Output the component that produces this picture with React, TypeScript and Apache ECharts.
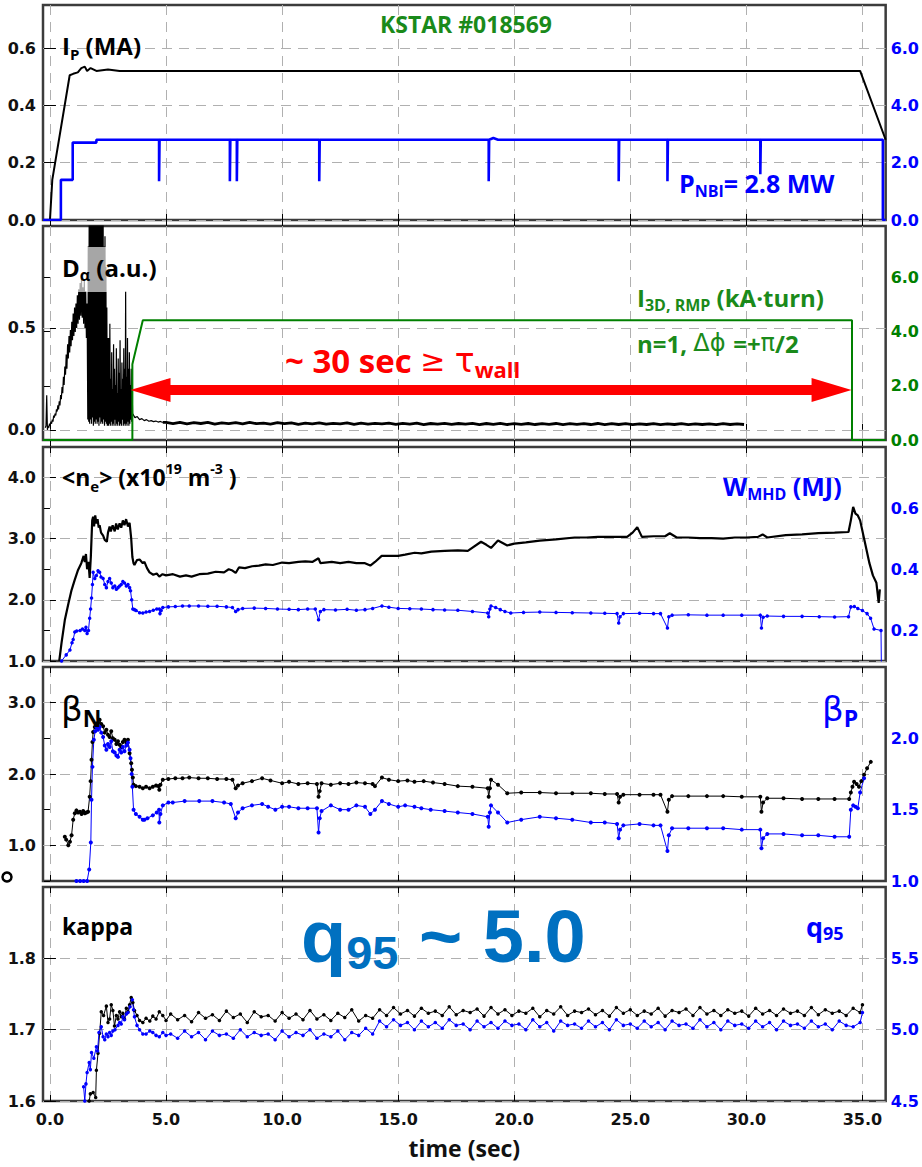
import React, { useEffect, useRef } from 'react';
import * as echarts from 'echarts';

// ---------------- data ----------------
const xTicks = [0, 5, 10, 15, 20, 25, 30, 35];

// Panel 1: plasma current (MA, left) and NBI power (MW, right)
const ipData = [[-0.3, 0], [0.0, 0], [0.1, 0.14], [0.85, 0.505], [1.0, 0.51], [1.2, 0.515], [1.35, 0.53], [1.5, 0.535], [1.6, 0.52], [1.75, 0.53], [2.0, 0.52], [2.5, 0.525], [3.0, 0.52], [5.0, 0.52], [8.0, 0.52], [11.5, 0.52], [14.0, 0.52], [18.9, 0.52], [20.0, 0.52], [25.0, 0.52], [26.6, 0.52], [30.6, 0.52], [34.9, 0.52], [36.0, 0.28]];
const pnbiData = [[-0.3, 0], [0.47, 0], [0.47, 1.4], [0.98, 1.4], [0.98, 2.7], [2.0, 2.7], [2.0, 2.8], [4.7, 2.8], [4.7, 1.35], [4.72, 1.35], [4.72, 2.8], [7.75, 2.8], [7.75, 1.35], [7.77, 1.35], [7.77, 2.8], [8.05, 2.8], [8.05, 1.35], [8.07, 1.35], [8.07, 2.8], [11.6, 2.8], [11.6, 1.35], [11.62, 1.35], [11.62, 2.8], [18.9, 2.8], [18.9, 1.35], [18.92, 1.35], [18.92, 2.8], [19.1, 2.86], [19.3, 2.8], [24.5, 2.8], [24.5, 1.35], [24.52, 1.35], [24.52, 2.8], [26.6, 2.8], [26.6, 1.35], [26.62, 1.35], [26.62, 2.8], [30.6, 2.8], [30.6, 1.6], [30.62, 1.6], [30.62, 2.8], [35.88, 2.8], [35.88, 0], [36, 0]];

// Panel 2: D-alpha (a.u., left), uniformly sampled segments, and RMP coil current (kA.turn, right)
const daRiseT0 = -0.2, daRiseDt = 0.03;
const daRise = [0.01, 0.02, 0.17, 0.0, 0.02, 0.01, 0.03, 0.02, 0.04, 0.03, 0.05, 0.04, 0.07, 0.06, 0.08, 0.07, 0.10, 0.09, 0.12, 0.10, 0.14, 0.12, 0.17, 0.15, 0.21, 0.18, 0.26, 0.22, 0.31, 0.27, 0.37, 0.30, 0.42, 0.35, 0.46, 0.38, 0.49, 0.41, 0.53, 0.44, 0.57, 0.46, 0.60, 0.48, 0.62, 0.50, 0.66, 0.52, 0.69, 0.54, 0.72, 0.56, 0.74, 0.55, 0.70, 0.52, 0.73, 0.50, 0.68, 0.45, 0.62, 0.05];
const daBurstT0 = 1.65, daBurstDt = 0.02;
const daBurst = [0.9, 0.04, 1.1, 0.03, 1.1, 0.05, 1.1, 0.03, 1.1, 0.06, 1.1, 0.02, 1.1, 0.04, 1.1, 0.03, 1.1, 0.05, 1.1, 0.03, 1.1, 0.04, 1.1, 0.02, 1.1, 0.06, 1.1, 0.03, 1.1, 0.04, 1.1, 0.03, 1.1, 0.05, 0.9, 0.02, 0.95, 0.04, 0.8, 0.03, 0.6, 0.02, 0.45];
const daElmT0 = 2.5, daElmDt = 0.02;
const daElm = [0.3, 0.02, 0.45, 0.03, 0.52, 0.02, 0.25, 0.04, 0.38, 0.02, 0.2, 0.03, 0.42, 0.02, 0.3, 0.05, 0.22, 0.02, 0.4, 0.03, 0.18, 0.02, 0.35, 0.04, 0.28, 0.02, 0.44, 0.03, 0.2, 0.02, 0.33, 0.05, 0.25, 0.02, 0.4, 0.03, 0.3, 0.02, 0.68, 0.03, 0.26, 0.02, 0.45, 0.04, 0.3, 0.02, 0.38, 0.03, 0.22, 0.05, 0.3, 0.04, 0.2];
const daDecayT0 = 3.56, daDecayDt = 0.1;
const daDecay = [0.08, 0.06, 0.065, 0.05, 0.055, 0.045, 0.05, 0.042, 0.045, 0.04, 0.043, 0.038, 0.041, 0.036];
const daFlatT0 = 5.0, daFlatDt = 0.3;
const daFlat = [0.036, 0.03, 0.037, 0.029, 0.035, 0.031, 0.036, 0.028, 0.034, 0.03, 0.035, 0.029, 0.036, 0.03, 0.033, 0.028, 0.035, 0.03, 0.034, 0.027, 0.033, 0.029, 0.034, 0.028, 0.032, 0.029, 0.034, 0.027, 0.033, 0.028, 0.032, 0.029, 0.033, 0.027, 0.032, 0.028, 0.033, 0.026, 0.031, 0.028, 0.032, 0.027, 0.031, 0.028, 0.032, 0.026, 0.031, 0.027, 0.032, 0.026, 0.03, 0.027, 0.031, 0.026, 0.03, 0.027, 0.031, 0.025, 0.03, 0.027, 0.03, 0.026, 0.031, 0.025, 0.03, 0.026, 0.03, 0.025, 0.029, 0.026, 0.03, 0.025, 0.029, 0.026, 0.03, 0.025, 0.029, 0.026, 0.029, 0.025, 0.03, 0.026, 0.029, 0.026];
const rmpData = [[-0.3, 0], [3.55, 0], [3.55, 2.8], [4.0, 4.42], [34.55, 4.42], [34.55, 0], [36, 0]];
const arrowY = 1.85;          // right-axis units
const arrowFrom = 4.33, arrowTo = 33.67; // time (sec), arrow-head centres

// Panel 3: line-averaged density (1e19 m^-3, left) and stored energy (MJ, right)
const neData = [[0.4, 1.0], [0.5, 1.3], [0.64, 1.67], [0.8, 1.95], [0.93, 2.16], [1.07, 2.33], [1.21, 2.49], [1.35, 2.6], [1.45, 2.72], [1.5, 2.62], [1.55, 2.75], [1.6, 2.5], [1.66, 2.62], [1.71, 2.36], [1.76, 2.7], [1.82, 3.3], [1.86, 3.36], [1.9, 3.2], [1.95, 3.38], [2.0, 3.25], [2.05, 3.32], [2.1, 3.18], [2.14, 3.22], [2.2, 3.1], [2.29, 3.05], [2.36, 2.98], [2.45, 2.95], [2.5, 3.1], [2.57, 3.2], [2.62, 3.12], [2.7, 3.22], [2.79, 3.12], [2.85, 3.25], [2.92, 3.15], [3.0, 3.25], [3.07, 3.18], [3.14, 3.3], [3.21, 3.22], [3.28, 3.32], [3.36, 3.2], [3.43, 3.26], [3.5, 3.0], [3.55, 2.7], [3.6, 2.6], [3.64, 2.57], [3.75, 2.65], [3.86, 2.66], [4.0, 2.6], [4.07, 2.62], [4.18, 2.52], [4.29, 2.45], [4.45, 2.41], [4.6, 2.43], [4.71, 2.38], [4.85, 2.42], [5.0, 2.4], [5.3, 2.42], [5.6, 2.38], [5.86, 2.4], [6.1, 2.38], [6.43, 2.42], [6.8, 2.43], [7.14, 2.46], [7.5, 2.45], [7.7, 2.5], [7.86, 2.48], [8.0, 2.44], [8.14, 2.53], [8.4, 2.52], [8.71, 2.55], [9.0, 2.56], [9.29, 2.58], [9.6, 2.57], [10.0, 2.61], [10.3, 2.6], [10.7, 2.62], [11.0, 2.63], [11.3, 2.62], [11.57, 2.68], [11.65, 2.6], [12.14, 2.62], [12.5, 2.6], [12.86, 2.62], [13.2, 2.6], [13.57, 2.6], [13.8, 2.56], [14.0, 2.62], [14.29, 2.72], [14.6, 2.72], [15.0, 2.72], [15.3, 2.74], [15.71, 2.77], [16.0, 2.76], [16.43, 2.79], [17.0, 2.8], [17.57, 2.81], [18.0, 2.8], [18.57, 2.95], [18.8, 2.9], [19.0, 2.85], [19.3, 2.97], [19.7, 2.89], [20.0, 2.92], [20.5, 2.94], [21.1, 2.97], [21.8, 2.99], [22.6, 3.02], [23.1, 3.02], [23.6, 3.03], [24.2, 3.03], [24.86, 3.03], [25.1, 3.1], [25.3, 3.19], [25.5, 3.03], [26.0, 3.04], [26.5, 3.04], [26.7, 3.09], [27.0, 3.02], [27.5, 3.02], [28.0, 3.01], [28.5, 3.01], [29.0, 3.0], [29.5, 3.02], [30.0, 3.02], [30.5, 3.03], [30.7, 3.07], [30.9, 3.02], [31.7, 3.06], [32.4, 3.07], [33.1, 3.09], [33.8, 3.1], [34.4, 3.11], [34.5, 3.3], [34.6, 3.52], [34.7, 3.41], [34.8, 3.38], [34.9, 3.3], [35.1, 2.95], [35.3, 2.6], [35.45, 2.4], [35.6, 2.28], [35.7, 1.95], [35.75, 2.17]];
const wmhdData = [[0.5, 0.1], [0.7, 0.12], [0.86, 0.136], [0.95, 0.16], [1.0, 0.17], [1.07, 0.195], [1.15, 0.198], [1.3, 0.2], [1.4, 0.205], [1.5, 0.2], [1.55, 0.21], [1.6, 0.19], [1.66, 0.2], [1.71, 0.24], [1.75, 0.27], [1.79, 0.306], [1.83, 0.35], [1.86, 0.39], [1.93, 0.37], [2.0, 0.38], [2.07, 0.395], [2.14, 0.39], [2.2, 0.375], [2.29, 0.37], [2.36, 0.35], [2.43, 0.34], [2.5, 0.36], [2.57, 0.37], [2.64, 0.355], [2.71, 0.34], [2.79, 0.345], [2.86, 0.335], [2.93, 0.34], [3.0, 0.345], [3.07, 0.35], [3.14, 0.36], [3.21, 0.355], [3.29, 0.345], [3.36, 0.35], [3.43, 0.34], [3.47, 0.33], [3.52, 0.3], [3.57, 0.27], [3.64, 0.268], [3.71, 0.265], [3.86, 0.258], [4.0, 0.257], [4.14, 0.26], [4.29, 0.262], [4.45, 0.266], [4.6, 0.27], [4.71, 0.27], [4.74, 0.255], [4.79, 0.265], [4.86, 0.275], [5.1, 0.277], [5.4, 0.278], [5.71, 0.28], [6.0, 0.28], [6.4, 0.28], [6.8, 0.279], [7.2, 0.279], [7.6, 0.277], [7.86, 0.275], [8.0, 0.262], [8.1, 0.268], [8.3, 0.272], [8.8, 0.273], [9.29, 0.272], [9.8, 0.27], [10.3, 0.269], [10.7, 0.268], [11.1, 0.27], [11.43, 0.27], [11.57, 0.235], [11.65, 0.262], [11.8, 0.268], [12.3, 0.267], [12.8, 0.269], [13.2, 0.266], [13.57, 0.268], [13.9, 0.272], [14.3, 0.28], [14.6, 0.276], [15.0, 0.272], [15.5, 0.271], [16.0, 0.27], [16.5, 0.268], [17.0, 0.267], [17.57, 0.266], [18.2, 0.262], [18.86, 0.257], [18.9, 0.245], [18.95, 0.27], [19.0, 0.28], [19.2, 0.275], [19.4, 0.268], [19.6, 0.262], [19.85, 0.257], [20.4, 0.259], [21.1, 0.26], [21.8, 0.259], [22.5, 0.258], [23.3, 0.257], [23.9, 0.256], [24.43, 0.255], [24.5, 0.224], [24.56, 0.245], [24.7, 0.255], [25.4, 0.256], [26.0, 0.255], [26.3, 0.255], [26.6, 0.208], [26.66, 0.245], [26.8, 0.25], [27.5, 0.251], [28.3, 0.25], [29.0, 0.25], [29.8, 0.25], [30.6, 0.25], [30.65, 0.208], [30.72, 0.243], [30.9, 0.247], [31.6, 0.246], [32.4, 0.246], [33.14, 0.245], [33.8, 0.244], [34.4, 0.245], [34.5, 0.277], [34.65, 0.278], [34.8, 0.272], [35.0, 0.265], [35.2, 0.255], [35.35, 0.24], [35.5, 0.205], [35.8, 0.2], [35.82, 0.05]];

// Panel 4: normalized beta (left) and poloidal beta (right)
const betaNData = [[0.64, 1.12], [0.7, 1.08], [0.79, 1.0], [0.86, 1.05], [0.93, 1.14], [1.0, 1.36], [1.07, 1.45], [1.14, 1.49], [1.21, 1.46], [1.29, 1.47], [1.36, 1.44], [1.43, 1.48], [1.5, 1.45], [1.57, 1.46], [1.64, 1.47], [1.71, 1.68], [1.75, 1.9], [1.79, 2.2], [1.83, 2.45], [1.86, 2.59], [1.93, 2.66], [2.0, 2.69], [2.07, 2.72], [2.14, 2.76], [2.21, 2.7], [2.29, 2.67], [2.36, 2.58], [2.43, 2.62], [2.5, 2.55], [2.57, 2.52], [2.64, 2.6], [2.71, 2.5], [2.79, 2.48], [2.86, 2.42], [2.93, 2.46], [3.0, 2.41], [3.07, 2.38], [3.14, 2.45], [3.21, 2.48], [3.29, 2.44], [3.36, 2.48], [3.43, 2.29], [3.5, 2.15], [3.53, 2.06], [3.57, 1.95], [3.6, 1.85], [3.7, 1.83], [3.86, 1.82], [4.0, 1.8], [4.14, 1.82], [4.29, 1.8], [4.43, 1.82], [4.57, 1.84], [4.67, 1.83], [4.71, 1.78], [4.76, 1.85], [4.86, 1.92], [5.1, 1.93], [5.4, 1.94], [5.71, 1.94], [6.0, 1.95], [6.4, 1.94], [6.8, 1.94], [7.2, 1.93], [7.6, 1.93], [7.86, 1.92], [8.0, 1.8], [8.1, 1.84], [8.3, 1.87], [8.7, 1.9], [9.14, 1.94], [9.5, 1.91], [10.0, 1.87], [10.3, 1.89], [10.7, 1.86], [11.1, 1.87], [11.5, 1.86], [11.57, 1.68], [11.62, 1.76], [11.7, 1.87], [12.1, 1.85], [12.5, 1.87], [12.86, 1.86], [13.2, 1.88], [13.57, 1.87], [13.9, 1.86], [14.0, 1.83], [14.3, 1.95], [14.6, 1.92], [15.0, 1.9], [15.4, 1.91], [15.7, 1.89], [16.1, 1.9], [16.5, 1.88], [17.0, 1.86], [17.57, 1.83], [18.2, 1.82], [18.86, 1.8], [18.9, 1.68], [18.95, 1.8], [19.0, 1.92], [19.3, 1.85], [19.7, 1.73], [20.3, 1.74], [21.1, 1.74], [21.8, 1.73], [22.5, 1.73], [23.3, 1.73], [23.9, 1.72], [24.43, 1.72], [24.5, 1.6], [24.56, 1.68], [24.7, 1.71], [25.4, 1.71], [26.0, 1.71], [26.3, 1.71], [26.6, 1.47], [26.66, 1.64], [26.8, 1.69], [27.5, 1.69], [28.3, 1.69], [29.0, 1.69], [29.8, 1.68], [30.6, 1.68], [30.65, 1.47], [30.72, 1.6], [30.9, 1.66], [31.6, 1.66], [32.4, 1.65], [33.1, 1.65], [33.8, 1.65], [34.43, 1.65], [34.5, 1.74], [34.57, 1.82], [34.64, 1.89], [34.75, 1.86], [34.85, 1.82], [34.95, 1.9], [35.07, 1.99], [35.2, 2.08], [35.36, 2.17]];
const betaPData = [[1.14, 1.0], [1.3, 1.0], [1.45, 1.0], [1.6, 1.0], [1.69, 1.08], [1.76, 1.27], [1.79, 1.57], [1.83, 1.8], [1.89, 1.99], [1.95, 2.05], [2.0, 2.08], [2.07, 2.06], [2.14, 2.08], [2.21, 2.04], [2.29, 2.01], [2.36, 1.95], [2.43, 1.92], [2.5, 1.96], [2.57, 1.94], [2.64, 1.98], [2.71, 1.91], [2.79, 1.9], [2.86, 1.88], [2.93, 1.87], [3.0, 1.92], [3.07, 1.9], [3.14, 1.94], [3.21, 1.91], [3.29, 1.95], [3.36, 1.97], [3.43, 1.92], [3.47, 1.86], [3.52, 1.75], [3.55, 1.66], [3.6, 1.5], [3.7, 1.47], [3.86, 1.45], [4.0, 1.43], [4.07, 1.43], [4.2, 1.44], [4.43, 1.46], [4.6, 1.48], [4.7, 1.5], [4.71, 1.41], [4.76, 1.47], [4.86, 1.53], [5.1, 1.55], [5.29, 1.55], [5.8, 1.56], [6.43, 1.56], [7.0, 1.56], [7.5, 1.55], [7.79, 1.54], [8.0, 1.44], [8.1, 1.48], [8.3, 1.51], [8.7, 1.53], [9.14, 1.54], [9.4, 1.52], [9.71, 1.5], [10.0, 1.52], [10.3, 1.52], [10.7, 1.51], [11.1, 1.51], [11.5, 1.51], [11.57, 1.34], [11.62, 1.44], [11.7, 1.49], [12.1, 1.53], [12.5, 1.5], [12.86, 1.5], [13.2, 1.53], [13.57, 1.52], [13.8, 1.47], [14.0, 1.5], [14.3, 1.56], [14.6, 1.54], [15.0, 1.52], [15.3, 1.53], [15.7, 1.52], [16.0, 1.51], [16.4, 1.5], [17.0, 1.49], [17.57, 1.48], [18.2, 1.47], [18.86, 1.45], [18.9, 1.38], [18.95, 1.48], [19.0, 1.53], [19.3, 1.48], [19.7, 1.41], [20.3, 1.43], [21.1, 1.45], [21.8, 1.44], [22.5, 1.43], [23.3, 1.41], [23.9, 1.41], [24.43, 1.4], [24.5, 1.3], [24.56, 1.36], [24.7, 1.39], [25.4, 1.4], [26.0, 1.39], [26.3, 1.39], [26.6, 1.21], [26.66, 1.32], [26.8, 1.37], [27.5, 1.37], [28.3, 1.37], [29.0, 1.37], [29.8, 1.36], [30.6, 1.36], [30.65, 1.23], [30.72, 1.3], [30.9, 1.33], [31.6, 1.33], [32.4, 1.32], [33.1, 1.32], [33.8, 1.31], [34.43, 1.31], [34.5, 1.5], [34.6, 1.53], [34.7, 1.52], [34.8, 1.51], [34.9, 1.62], [35.07, 1.72]];

// Panel 5: elongation (left) and q95 (right)
const kappaEarly = [[1.69, 1.6], [1.74, 1.61], [1.86, 1.612], [1.97, 1.605], [2.0, 1.643], [2.07, 1.667], [2.14, 1.695], [2.21, 1.725], [2.31, 1.72], [2.43, 1.733], [2.5, 1.71], [2.57, 1.715], [2.64, 1.735], [2.71, 1.727], [2.78, 1.705], [2.86, 1.72], [2.93, 1.715], [3.0, 1.725], [3.07, 1.718], [3.14, 1.723], [3.21, 1.715], [3.29, 1.73], [3.36, 1.725], [3.43, 1.735], [3.5, 1.745], [3.57, 1.738], [3.64, 1.727], [3.75, 1.72], [3.86, 1.713], [4.0, 1.71], [4.14, 1.716], [4.3, 1.712], [4.43, 1.719], [4.57, 1.715], [4.71, 1.725], [4.86, 1.72], [5.0, 1.713]];
const kappaT0 = 5.2, kappaDt = 0.3;
const kappaFlat = [1.722, 1.714, 1.72, 1.711, 1.724, 1.716, 1.721, 1.713, 1.726, 1.717, 1.722, 1.71, 1.725, 1.718, 1.72, 1.712, 1.724, 1.716, 1.722, 1.714, 1.727, 1.715, 1.721, 1.713, 1.723, 1.717, 1.728, 1.712, 1.72, 1.716, 1.728, 1.72, 1.731, 1.722, 1.727, 1.719, 1.73, 1.723, 1.726, 1.72, 1.732, 1.721, 1.727, 1.724, 1.729, 1.719, 1.731, 1.722, 1.728, 1.72, 1.726, 1.723, 1.73, 1.718, 1.727, 1.722, 1.732, 1.72, 1.726, 1.724, 1.729, 1.721, 1.727, 1.719, 1.731, 1.723, 1.728, 1.72, 1.726, 1.722, 1.73, 1.719, 1.727, 1.724, 1.729, 1.72, 1.731, 1.722, 1.727, 1.72, 1.728, 1.723, 1.726, 1.719, 1.73, 1.722, 1.727, 1.72, 1.729, 1.723, 1.726, 1.72, 1.731, 1.721, 1.728, 1.723, 1.726, 1.72, 1.73, 1.724];
const kappaEnd = [[35.0, 1.735]];
const q95Early = [[1.45, 4.6], [1.5, 4.5], [1.55, 4.62], [1.6, 4.7], [1.69, 4.77], [1.74, 4.72], [1.79, 4.84], [1.89, 4.8], [2.0, 4.88], [2.05, 4.85], [2.11, 4.98], [2.21, 5.02], [2.29, 4.95], [2.36, 4.93], [2.43, 4.97], [2.5, 4.95], [2.57, 4.98], [2.64, 4.96], [2.71, 4.99], [2.8, 5.0], [2.93, 5.03], [3.0, 5.05], [3.07, 5.04], [3.14, 5.09], [3.21, 5.07], [3.29, 5.11], [3.36, 5.12], [3.45, 5.16], [3.55, 5.21], [3.6, 5.14], [3.64, 5.09], [3.75, 5.03], [3.86, 5.0], [4.0, 4.97], [4.14, 4.97], [4.3, 4.99], [4.43, 4.98], [4.57, 4.96], [4.71, 4.95], [4.86, 4.98], [5.0, 4.96]];
const q95T0 = 5.2, q95Dt = 0.3;
const q95Flat = [4.97, 4.94, 4.99, 4.95, 4.98, 4.93, 4.99, 4.96, 4.97, 4.94, 5.0, 4.95, 4.98, 4.96, 4.97, 4.93, 4.99, 4.95, 4.98, 4.96, 5.0, 4.94, 4.97, 4.95, 4.99, 4.93, 4.98, 4.96, 5.01, 4.97, 5.06, 5.02, 5.07, 5.03, 5.05, 5.0, 5.06, 5.02, 5.05, 5.01, 5.07, 5.03, 5.04, 5.0, 5.06, 5.02, 5.05, 5.01, 5.06, 5.03, 5.04, 5.0, 5.07, 5.02, 5.05, 4.99, 5.06, 5.03, 5.04, 5.01, 5.06, 5.02, 5.05, 5.0, 5.07, 5.03, 5.04, 5.01, 5.06, 5.02, 5.05, 5.0, 5.06, 5.03, 5.04, 5.01, 5.07, 5.02, 5.05, 5.0, 5.06, 5.03, 5.04, 5.01, 5.06, 5.02, 5.05, 5.0, 5.06, 5.03, 5.04, 5.01, 5.06, 5.02, 5.04, 5.0, 5.06, 5.03, 5.02, 5.05];
const q95End = [[35.0, 5.12]];

// Axis ranges and tick values
const leftRanges = [[0, 0.75], [-0.05, 1.0], [1.0, 4.5], [0.5, 3.5], [1.6, 1.9]];
const rightRanges = [[0, 7.5], [0, 7.9], [0.1, 0.8], [1.0, 2.5], [4.5, 6.0]];
const leftTicks = [[0, 0.2, 0.4, 0.6], [0, 0.5], [1, 2, 3, 4], [1, 2, 3], [1.6, 1.7, 1.8]];
const rightTicks = [[0, 2, 4, 6], [0, 2, 4, 6], [0.2, 0.4, 0.6], [1.0, 1.5, 2.0], [4.5, 5.0, 5.5]];

// ---------------- helpers ----------------
const sampled = (t0: number, dt: number, vals: number[]) => vals.map((v, i) => [Math.round((t0 + i * dt) * 1000) / 1000, v]);

const BLUE = '#0000ff';
const GREEN = '#008000';
const GTEXT = '#1a8a1a';
const RED = '#ff0000';
const gridTops = [5, 226, 447, 667, 887];
const gridHs = [215, 214, 214, 214, 214];
const rightColors = [BLUE, GREEN, BLUE, BLUE, BLUE];

const dashed = { color: '#b0b0b0', type: [10, 7] as any, width: 1 };
const tickFont = { fontSize: 16, fontWeight: 'bold' as const, fontFamily: 'DejaVu Sans' };

function xAxisCfg(gi: number, position: 'top' | 'bottom') {
  const isLast = gi === 4 && position === 'bottom';
  return {
    type: 'value', gridIndex: gi, position, min: -0.3, max: 36,
    axisLine: { show: false },
    axisTick: { show: true, inside: true, length: 6, customValues: xTicks, lineStyle: { color: '#000', width: 1 } },
    axisLabel: { show: isLast, customValues: xTicks, formatter: (v: number) => v.toFixed(1), color: '#111', margin: 10, ...tickFont },
    splitLine: { show: position === 'bottom', lineStyle: dashed },
    name: isLast ? 'time (sec)' : '',
    nameLocation: 'middle', nameGap: 35,
    nameTextStyle: { fontSize: 23, fontWeight: 'bold', fontFamily: 'Open Sans', color: '#111' },
  };
}

function yAxisCfg(gi: number, side: 'left' | 'right') {
  const r = side === 'left' ? leftRanges[gi] : rightRanges[gi];
  const ticks = side === 'left' ? leftTicks[gi] : rightTicks[gi];
  const color = side === 'left' ? '#111' : rightColors[gi];
  return {
    type: 'value', gridIndex: gi, position: side, min: r[0], max: r[1],
    axisLine: { show: false },
    axisTick: { show: true, inside: true, length: 6, customValues: ticks, lineStyle: { color: '#000', width: 1 } },
    axisLabel: { show: true, customValues: ticks, formatter: (v: number) => v.toFixed(1), color, margin: side === 'left' ? 7 : 5, ...tickFont },
    splitLine: { show: side === 'left', lineStyle: dashed },
  };
}

function line(name: string, gi: number, side: 'left' | 'right', data: number[][], color: string, width: number, dots = 0, extra: any = {}) {
  return {
    name, type: 'line', xAxisIndex: gi, yAxisIndex: gi * 2 + (side === 'left' ? 0 : 1), data,
    showSymbol: dots > 0, symbol: 'circle', symbolSize: dots || 1,
    itemStyle: { color }, lineStyle: { color, width },
    silent: true, clip: true, ...extra,
  };
}

const f = (size: number, color: string, family = 'Open Sans', weight: any = 'bold') => ({ fontSize: size, fontWeight: weight, fontFamily: family, fill: color });

function label(x: number, y: number, text: string, rich: any, align = 'left') {
  return { type: 'text', x, y, z: 101, silent: true, style: { text, rich, align, verticalAlign: 'middle' } };
}

function buildOption() {
  const grids = gridTops.map((top, i) => ({ left: 43, right: 32, top, height: gridHs[i], show: true, borderColor: '#3c3c3c', borderWidth: 2.5, backgroundColor: '#fff' }));
  const xAxes = [0, 1, 2, 3, 4].map((g) => xAxisCfg(g, 'bottom')).concat([0, 1, 2, 3, 4].map((g) => xAxisCfg(g, 'top')));
  const yAxes: any[] = [];
  for (let g = 0; g < 5; g++) { yAxes.push(yAxisCfg(g, 'left')); yAxes.push(yAxisCfg(g, 'right')); }

  const daNoisy = sampled(daRiseT0, daRiseDt, daRise).concat(sampled(daBurstT0, daBurstDt, daBurst), sampled(daElmT0, daElmDt, daElm), sampled(daDecayT0, daDecayDt, daDecay));
  const daQuiet = sampled(daDecayT0, daDecayDt, daDecay).slice(-1).concat(sampled(daFlatT0, daFlatDt, daFlat));

  const series = [
    line('Ip', 0, 'left', ipData, '#000', 2),
    line('PNBI', 0, 'right', pnbiData, BLUE, 2.6),
    line('Dalpha', 1, 'left', daNoisy, '#000', 1.2),
    line('DalphaFlat', 1, 'left', daQuiet, '#000', 2.8),
    line('I3D', 1, 'right', rmpData, GREEN, 2, 0, {
      markLine: {
        silent: true, symbol: ['triangle', 'triangle'], symbolSize: [24, 40],
        label: { show: false }, lineStyle: { color: RED, width: 10, type: 'solid' },
        itemStyle: { color: RED },
        data: [[{ coord: [arrowFrom, arrowY] }, { coord: [arrowTo, arrowY] }]],
        z: 20,
      },
    }),
    line('ne', 2, 'left', neData, '#000', 2.2),
    line('Wmhd', 2, 'right', wmhdData, BLUE, 1, 3.5),
    line('betaN', 3, 'left', betaNData, '#000', 1, 4),
    line('betaP', 3, 'right', betaPData, BLUE, 1, 4),
    line('kappa', 4, 'left', kappaEarly.concat(sampled(kappaT0, kappaDt, kappaFlat), kappaEnd), '#000', 1, 3.5),
    line('q95', 4, 'right', q95Early.concat(sampled(q95T0, q95Dt, q95Flat), q95End), BLUE, 1, 3.5),
  ];

  const graphic = [
    label(466, 24, '{a|KSTAR #018569}', { a: f(23, GTEXT) }, 'center'),
    label(62, 45, '{a|I}{b|P}{a| (MA)}', { a: { ...f(24, '#000'), lineHeight: 32 }, b: { ...f(15, '#000'), lineHeight: 12, verticalAlign: 'bottom' } }),
    label(679, 183, '{a|P}{b|NBI}{a|= 2.8 MW}', { a: { ...f(25, BLUE), lineHeight: 32 }, b: { ...f(16, BLUE), lineHeight: 12, verticalAlign: 'bottom' } }),
    { type: 'rect', z: 100, silent: true, shape: { x: 58, y: 247, width: 102, height: 45 }, style: { fill: 'rgba(255,255,255,0.65)' } },
    label(62, 267, '{a|D}{b|α}{a| (a.u.)}', { a: { ...f(24, '#000'), lineHeight: 32 }, b: { ...f(16, '#000'), lineHeight: 12, verticalAlign: 'bottom' } }),
    label(637, 297, '{a|I}{b|3D, RMP}{a| (kA·turn)}', { a: { ...f(24, GTEXT), lineHeight: 32 }, b: { ...f(16, GTEXT), lineHeight: 12, verticalAlign: 'bottom' } }),
    label(637, 343, '{a|n=1, }{g|Δϕ }{a|=+}{g|π}{a|/2}', { a: f(24, GTEXT), g: f(24, GTEXT, 'DejaVu Sans', 'normal') }),
    label(285, 360, '{a|~ 30 sec }{g|≥ }{t|τ}{w|wall}', { a: { ...f(33, RED), lineHeight: 40 }, g: { ...f(30, RED, 'DejaVu Sans', 'normal'), lineHeight: 40 }, t: { ...f(33, RED, 'DejaVu Sans', 'normal'), lineHeight: 40 }, w: { ...f(22, RED), lineHeight: 16, verticalAlign: 'bottom' } }),
    label(62, 477, '{a|<n}{b|e}{a|> (x10}{c|19}{a| m}{c|-3}{a| )}', { a: { ...f(23, '#000'), lineHeight: 32 }, b: { ...f(15, '#000'), lineHeight: 12, verticalAlign: 'bottom' }, c: { ...f(14, '#000'), lineHeight: 12, verticalAlign: 'top' } }),
    label(723, 486, '{a|W}{b|MHD}{a| (MJ)}', { a: { ...f(25, BLUE), lineHeight: 32 }, b: { ...f(16, BLUE), lineHeight: 12, verticalAlign: 'bottom' } }),
    label(61, 709, '{g|β}{b|N}', { g: { ...f(34, '#000', 'DejaVu Sans', 'normal'), lineHeight: 40 }, b: { ...f(23, '#000'), lineHeight: 20, verticalAlign: 'bottom' } }),
    label(822, 709, '{g|β}{b|P}', { g: { ...f(34, BLUE, 'DejaVu Sans', 'normal'), lineHeight: 40 }, b: { ...f(23, BLUE), lineHeight: 20, verticalAlign: 'bottom' } }),
    label(62, 926, '{a|kappa}', { a: f(23, '#000') }),
    label(806, 926, '{a|q}{b|95}', { a: { ...f(27, BLUE), lineHeight: 32 }, b: { ...f(18, BLUE), lineHeight: 14, verticalAlign: 'bottom' } }),
    label(301, 936, '{a|q}{b|95}{a| ~ 5.0}', { a: { ...f(74, '#0070c0', 'Liberation Sans'), lineHeight: 80 }, b: { ...f(47, '#0070c0', 'Liberation Sans'), lineHeight: 40, verticalAlign: 'bottom' } }),
    { type: 'circle', z: 100, silent: true, shape: { cx: 7, cy: 877, r: 4.5 }, style: { fill: 'none', stroke: '#000', lineWidth: 2.5 } },
  ];

  return {
    animation: false,
    backgroundColor: '#fff',
    grid: grids,
    xAxis: xAxes,
    yAxis: yAxes,
    series,
    graphic,
  };
}

export default function App() {
  const ref = useRef<HTMLDivElement>(null);
  useEffect(() => {
    const chart = echarts.init(ref.current!, null, { renderer: 'svg' });
    chart.setOption(buildOption() as any);
    return () => chart.dispose();
  }, []);
  return <div ref={ref} style={{ position: 'absolute', left: 0, top: 0, width: 922, height: 1167, background: '#fff' }} />;
}
